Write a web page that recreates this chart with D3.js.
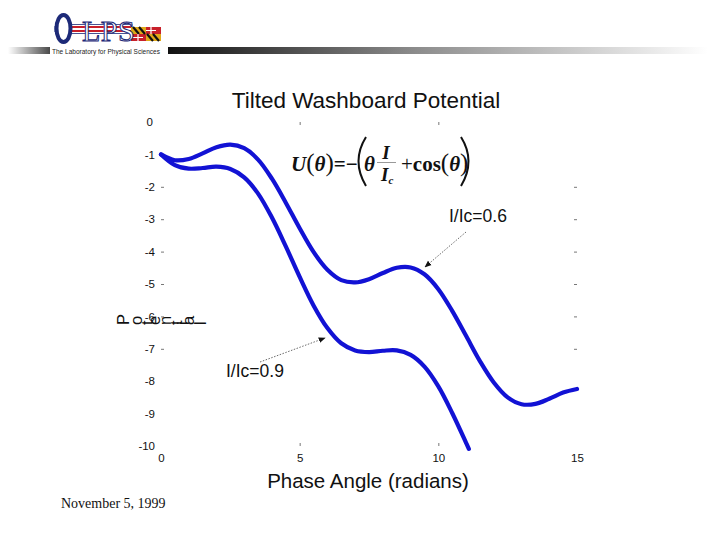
<!DOCTYPE html>
<html>
<head>
<meta charset="utf-8">
<script src="https://cdn.jsdelivr.net/npm/d3@7"></script>
<style>
  html, body { margin: 0; padding: 0; background: #fff; }
  svg { display: block; }
</style>
</head>
<body>
<svg id="chart" width="720" height="540"></svg>
<script>
// ---------------- data ----------------
const thetaA = [0,0.5,1,1.5,2,2.5,3,3.5,4,4.5,5,5.5,6,6.5,7,7.5,8,8.5,9,9.5,10,10.5,11,11.5,12,12.5,13,13.5,14,14.5,15];
const potA   = [-1.00,-1.18,-1.14,-0.97,-0.78,-0.70,-0.81,-1.16,-1.75,-2.49,-3.28,-4.01,-4.56,-4.88,-4.95,-4.85,-4.66,-4.50,-4.49,-4.70,-5.16,-5.83,-6.60,-7.38,-8.04,-8.50,-8.71,-8.70,-8.54,-8.35,-8.24];
const thetaB = [0,0.5,1,1.5,2,2.5,3,3.5,4,4.5,5,5.5,6,6.5,7,7.5,8,8.5,9,9.5,10,10.5,11,11.1];
const potB   = [-1.00,-1.33,-1.44,-1.42,-1.38,-1.45,-1.71,-2.21,-2.95,-3.84,-4.78,-5.66,-6.36,-6.83,-7.05,-7.10,-7.06,-7.05,-7.19,-7.55,-8.16,-8.98,-9.90,-10.09];
const seriesLabels = ["I/Ic=0.6", "I/Ic=0.9"];
const xTickLabels = [0, 5, 10, 15];
const yTickLabels = [0,-1,-2,-3,-4,-5,-6,-7,-8,-9,-10];
const yTickMarks = [-2,-3,-4,-5,-6,-7];
const xTickMarks = [5, 10];
const titleText = "Tilted Washboard Potential";
const xLabelText = "Phase Angle (radians)";
const yLabelText = "Potential";
const dateText = "November 5, 1999";

// ---------------- setup ----------------
const svg = d3.select("#chart");
const x = d3.scaleLinear().domain([0, 15]).range([161, 577]);
const y = d3.scaleLinear().domain([0, -10]).range([122, 446]);

const defs = svg.append("defs");
const gL = defs.append("linearGradient").attr("id", "gl");
gL.append("stop").attr("offset", "0").attr("stop-color", "#ffffff");
gL.append("stop").attr("offset", "1").attr("stop-color", "#4a4a4a");
const gR = defs.append("linearGradient").attr("id", "gr");
gR.append("stop").attr("offset", "0").attr("stop-color", "#111111");
gR.append("stop").attr("offset", "0.45").attr("stop-color", "#8a8a8a");
gR.append("stop").attr("offset", "1").attr("stop-color", "#ffffff");
defs.append("marker").attr("id", "ah").attr("viewBox", "0 0 10 10")
  .attr("refX", 9).attr("refY", 5).attr("markerWidth", 7).attr("markerHeight", 7)
  .attr("orient", "auto").attr("markerUnits", "userSpaceOnUse")
  .append("path").attr("d", "M0,1 L10,5 L0,9 Z").attr("fill", "#111");

// ---------------- header / logo ----------------
const logo = svg.append("g");
logo.append("rect").attr("x", 8).attr("y", 47).attr("width", 42).attr("height", 7).attr("fill", "url(#gl)");
logo.append("rect").attr("x", 168).attr("y", 47).attr("width", 540).attr("height", 7).attr("fill", "url(#gr)");
logo.append("text").attr("x", 52).attr("y", 53.5).attr("font-family", "Liberation Sans, Arial, sans-serif")
  .attr("font-size", 6.5).attr("textLength", 108).attr("fill", "#222").text("The Laboratory for Physical Sciences");
// key shaft stripes
logo.append("rect").attr("x", 70).attr("y", 24.5).attr("width", 62).attr("height", 9).attr("fill", "#fff").attr("stroke", "#1d2a78").attr("stroke-width", 0.8);
logo.append("rect").attr("x", 70).attr("y", 26).attr("width", 62).attr("height", 2).attr("fill", "#c8202a");
logo.append("rect").attr("x", 70).attr("y", 30).attr("width", 62).attr("height", 2).attr("fill", "#c8202a");
// key bow
logo.append("ellipse").attr("cx", 63.5).attr("cy", 28.5).attr("rx", 7).attr("ry", 13.5)
  .attr("fill", "#fff").attr("stroke", "#1d2a78").attr("stroke-width", 4);
logo.append("rect").attr("x", 54.5).attr("y", 26).attr("width", 3).attr("height", 6).attr("fill", "#1d2a78");
// flag
const fl = logo.append("g");
fl.append("rect").attr("x", 131).attr("y", 27).attr("width", 30).attr("height", 14).attr("fill", "#e0a81a");
fl.append("rect").attr("x", 146).attr("y", 27).attr("width", 15).attr("height", 7).attr("fill", "#c8202a");
fl.append("rect").attr("x", 131).attr("y", 34).attr("width", 15).attr("height", 7).attr("fill", "#c8202a");
fl.append("path").attr("d", "M133,27 L139,34 M139,27 L145,34 M147,34 L153,41 M153,34 L159,41").attr("stroke", "#111").attr("stroke-width", 2.2);
fl.append("path").attr("d", "M151,27 L151,34 M146,30.5 L156,30.5 M138,34 L138,41 M133,37.5 L143,37.5").attr("stroke", "#fff").attr("stroke-width", 1.2);
// LPS letters
logo.append("text").attr("x", 82).attr("y", 41).attr("font-family", "Liberation Serif, Times New Roman, serif")
  .attr("font-size", 30).attr("letter-spacing", 0.5).attr("fill", "#fff").attr("stroke", "#1d2a78").attr("stroke-width", 1)
  .text("LPS");

// ---------------- axes ----------------
const font = "Liberation Sans, Arial, Helvetica, sans-serif";

// y tick labels (no marks)
const yAx = svg.append("g").attr("transform", `translate(${x(0)},0)`)
  .call(d3.axisLeft(y).tickValues(yTickLabels).tickSize(0).tickPadding(6).tickFormat(d => d === 0 ? "0" : "-" + Math.abs(d)));
yAx.select(".domain").remove();
yAx.selectAll("text").attr("font-family", font).attr("font-size", 11.5).attr("fill", "#111");
yAx.selectAll(".tick").filter(d => d === 0).select("text").attr("dx", -2);

// y tick marks left and right
const yTL = svg.append("g").attr("transform", `translate(${x(0)},0)`)
  .call(d3.axisRight(y).tickValues(yTickMarks).tickSize(3).tickFormat(""));
yTL.select(".domain").remove();
yTL.selectAll("line").attr("stroke", "#777");
const yTR = svg.append("g").attr("transform", `translate(${x(15)},0)`)
  .call(d3.axisLeft(y).tickValues(yTickMarks).tickSize(3).tickFormat(""));
yTR.select(".domain").remove();
yTR.selectAll("line").attr("stroke", "#777");

// x tick labels
const xAx = svg.append("g").attr("transform", `translate(0,${y(-10)})`)
  .call(d3.axisBottom(x).tickValues(xTickLabels).tickSize(0).tickPadding(8));
xAx.select(".domain").remove();
xAx.selectAll("text").attr("font-family", font).attr("font-size", 11.5).attr("fill", "#111");

// x tick marks top and bottom
const xTB = svg.append("g").attr("transform", `translate(0,${y(-10)})`)
  .call(d3.axisTop(x).tickValues(xTickMarks).tickSize(3).tickFormat(""));
xTB.select(".domain").remove();
xTB.selectAll("line").attr("stroke", "#777");
const xTT = svg.append("g").attr("transform", `translate(0,${y(0)})`)
  .call(d3.axisBottom(x).tickValues(xTickMarks).tickSize(3).tickFormat(""));
xTT.select(".domain").remove();
xTT.selectAll("line").attr("stroke", "#777");

// ---------------- curves ----------------
const line = d3.line().x(d => x(d[0])).y(d => y(d[1])).curve(d3.curveCatmullRom);
const dataA = thetaA.map((t, i) => [t, potA[i]]);
const dataB = thetaB.map((t, i) => [t, potB[i]]);
svg.append("path").datum(dataA).attr("d", line).attr("fill", "none")
  .attr("stroke", "#1212d4").attr("stroke-width", 4.2).attr("stroke-linejoin", "round").attr("stroke-linecap", "round");
svg.append("path").datum(dataB).attr("d", line).attr("fill", "none")
  .attr("stroke", "#1212d4").attr("stroke-width", 4.2).attr("stroke-linejoin", "round").attr("stroke-linecap", "round");

// ---------------- titles ----------------
svg.append("text").attr("x", 366).attr("y", 108).attr("text-anchor", "middle")
  .attr("font-family", font).attr("font-size", 22.5).attr("fill", "#111").text(titleText);
svg.append("text").attr("x", 368).attr("y", 488).attr("text-anchor", "middle")
  .attr("font-family", font).attr("font-size", 20.5).attr("fill", "#111").text(xLabelText);
svg.append("text").attr("x", 129).attr("y", 325).attr("rotate", -90).attr("letter-spacing", 2)
  .attr("font-family", font).attr("font-size", 16.5).attr("fill", "#111").text(yLabelText);
svg.append("text").attr("x", 61).attr("y", 508)
  .attr("font-family", "Liberation Serif, Times New Roman, serif").attr("font-size", 14).attr("fill", "#111").text(dateText);

// ---------------- equation ----------------
const eq = svg.append("g").attr("font-family", "Liberation Serif, Times New Roman, serif").attr("fill", "#111");
eq.append("text").attr("x", 291).attr("y", 171).attr("font-size", 21).attr("font-weight", "bold").attr("font-style", "italic")
  .html('U<tspan font-style="normal" font-weight="normal" font-size="25">(</tspan>θ<tspan font-style="normal" font-weight="normal" font-size="25">)</tspan><tspan font-style="normal">=−</tspan>');
eq.append("path").attr("d", "M366,137 Q351,161 366,186").attr("fill", "none").attr("stroke", "#111").attr("stroke-width", 2);
eq.append("text").attr("x", 364).attr("y", 171).attr("font-size", 21).attr("font-weight", "bold").attr("font-style", "italic").text("θ");
eq.append("text").attr("x", 386).attr("y", 159).attr("text-anchor", "middle").attr("font-size", 19).attr("font-weight", "bold").attr("font-style", "italic").text("I");
eq.append("line").attr("x1", 377).attr("x2", 396).attr("y1", 162.5).attr("y2", 162.5).attr("stroke", "#999").attr("stroke-width", 1);
eq.append("text").attr("x", 381).attr("y", 181).attr("font-size", 19).attr("font-weight", "bold").attr("font-style", "italic")
  .html('I<tspan font-size="11" dy="3">c</tspan>');
eq.append("text").attr("x", 401).attr("y", 171).attr("font-size", 21).attr("font-weight", "bold")
  .html('<tspan font-weight="normal">+</tspan>cos<tspan font-weight="normal" font-size="25">(</tspan><tspan font-style="italic">θ</tspan><tspan font-weight="normal" font-size="25">)</tspan>');
eq.append("path").attr("d", "M461,137 Q476,161 461,186").attr("fill", "none").attr("stroke", "#111").attr("stroke-width", 2);

// ---------------- annotations ----------------
svg.append("text").attr("x", 449).attr("y", 222).attr("font-family", font).attr("font-size", 17.5).attr("fill", "#111").text(seriesLabels[0]);
svg.append("text").attr("x", 226).attr("y", 377).attr("font-family", font).attr("font-size", 17.5).attr("fill", "#111").text(seriesLabels[1]);
svg.append("line").attr("x1", 466).attr("y1", 232).attr("x2", 425).attr("y2", 267)
  .attr("stroke", "#444").attr("stroke-width", 0.8).attr("stroke-dasharray", "1.5,1.5").attr("marker-end", "url(#ah)");
svg.append("line").attr("x1", 260).attr("y1", 362).attr("x2", 325).attr("y2", 338)
  .attr("stroke", "#444").attr("stroke-width", 0.8).attr("stroke-dasharray", "1.5,1.5").attr("marker-end", "url(#ah)");
</script>
</body>
</html>
